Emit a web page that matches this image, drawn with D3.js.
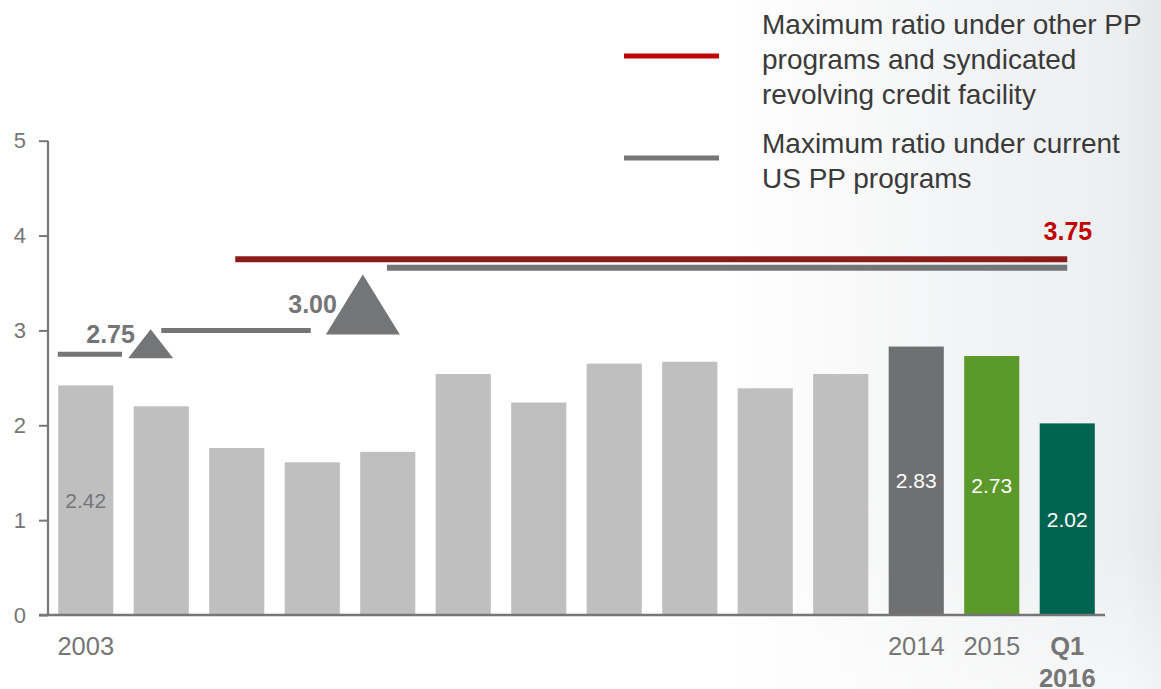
<!DOCTYPE html>
<html>
<head>
<meta charset="utf-8">
<script src="https://cdn.jsdelivr.net/npm/d3@7/dist/d3.min.js"></script>
<style>
  html, body { margin: 0; padding: 0; background: #ffffff; }
  svg { display: block; font-family: "Liberation Sans", Arial, sans-serif; }
</style>
</head>
<body>
<svg id="chart" width="1161" height="689"></svg>
<script>
// Leverage ratio by year, with the covenant ceilings drawn as step lines.
const categories = ["2003", "2004", "2005", "2006", "2007", "2008", "2009",
                    "2010", "2011", "2012", "2013", "2014", "2015", "Q1 2016"];
const values = [2.42, 2.20, 1.76, 1.61, 1.72, 2.54, 2.24,
                2.65, 2.67, 2.39, 2.54, 2.83, 2.73, 2.02];
// Axis labels shown under the bars (others left blank)
const tickLabels = {"2003": ["2003"], "2014": ["2014"], "2015": ["2015"], "Q1 2016": ["Q1", "2016"]};
const boldTicks = ["Q1 2016"];
// Value labels printed inside bars
const labelledBars = ["2003", "2014", "2015", "Q1 2016"];
const yTicks = [0, 1, 2, 3, 4, 5];

// Covenant ceilings; start/end are positions in category units along the axis
const usLimits = [
  {start: 0.13, end: 0.98, value: 2.75},
  {start: 1.50, end: 3.48, value: 3.00},
  {start: 4.49, end: 13.50, value: 3.75}
];
const otherLimits = [
  {start: 2.48, end: 13.50, value: 3.75}
];
// Step-up markers (triangles) with their labels
const stepMarkers = [
  {pos: 1.36, from: 2.75, label: "2.75", size: "small"},
  {pos: 4.17, from: 3.00, label: "3.00", size: "large"}
];
const ceilingLabel = {value: 3.75, at: 13.50, text: "3.75"};

const legendItems = [
  {key: "other", lines: ["Maximum ratio under other PP", "programs and syndicated", "revolving credit facility"]},
  {key: "us", lines: ["Maximum ratio under current", "US PP programs"]}
];

const colors = {
  bar: "#bfbfbf",
  highlight: {"2014": "#6f7072", "2015": "#5b9a2a", "Q1 2016": "#006450"},
  axis: "#767676",
  axisText: "#767676",
  usLine: "#747576",
  otherLine: "#8c1c1c",
  redText: "#c00000",
  legendRed: "#c00000",
  legendGray: "#767676",
  legendText: "#3a3a3a"
};

const svg = d3.select("#chart");
const W = 1161, H = 689;

// soft backdrop fading in on the right
const defs = svg.append("defs");
const bg = defs.append("linearGradient").attr("id", "bgGrad").attr("x1", 0).attr("x2", 1).attr("y1", 0).attr("y2", 0);
bg.append("stop").attr("offset", "0%").attr("stop-color", "#ffffff");
bg.append("stop").attr("offset", "62%").attr("stop-color", "#ffffff");
bg.append("stop").attr("offset", "85%").attr("stop-color", "#f2f3f4");
bg.append("stop").attr("offset", "97%").attr("stop-color", "#eceef0");
bg.append("stop").attr("offset", "100%").attr("stop-color", "#e4e6e8");
const bgV = defs.append("linearGradient").attr("id", "bgFade").attr("x1", 0).attr("x2", 0).attr("y1", 0).attr("y2", 1);
bgV.append("stop").attr("offset", "0%").attr("stop-color", "#ffffff").attr("stop-opacity", 0);
bgV.append("stop").attr("offset", "80%").attr("stop-color", "#ffffff").attr("stop-opacity", 0);
bgV.append("stop").attr("offset", "100%").attr("stop-color", "#ffffff").attr("stop-opacity", 0.5);
svg.append("rect").attr("width", W).attr("height", H).attr("fill", "url(#bgGrad)");
svg.append("rect").attr("width", W).attr("height", H).attr("fill", "url(#bgFade)");

// scales
const x = d3.scaleBand().domain(categories).range([48, 1105]).paddingInner(0.27).paddingOuter(0.135);
const pos = d3.scaleLinear().domain([0, categories.length]).range([48, 1105]);
const y = d3.scaleLinear().domain([0, 5]).range([615, 140.7]);

// bars
svg.append("g").selectAll("rect").data(categories).join("rect")
  .attr("x", d => x(d))
  .attr("width", x.bandwidth())
  .attr("y", (d, i) => y(values[i]))
  .attr("height", (d, i) => y(0) - y(values[i]))
  .attr("fill", d => colors.highlight[d] || colors.bar);

// value labels, centred in the bar
svg.append("g").selectAll("text").data(labelledBars).join("text")
  .attr("x", d => x(d) + x.bandwidth() / 2)
  .attr("y", d => (y(values[categories.indexOf(d)]) + y(0)) / 2)
  .attr("dy", "0.35em")
  .attr("text-anchor", "middle")
  .attr("font-size", 21)
  .attr("fill", d => colors.highlight[d] ? "#ffffff" : colors.axisText)
  .text(d => values[categories.indexOf(d)].toFixed(2));

// y axis
const yAxis = d3.axisLeft(y).tickValues(yTicks).tickSize(9).tickPadding(13).tickFormat(d3.format("d"));
const gy = svg.append("g").attr("transform", "translate(48,0)").call(yAxis);
gy.select(".domain").attr("stroke", colors.axis).attr("stroke-width", 2.2).attr("d", `M0,${y(5)}V${y(0)}`);
gy.selectAll(".tick line").attr("stroke", colors.axis).attr("stroke-width", 2);
gy.selectAll(".tick text").attr("fill", colors.axisText).attr("font-size", 22)
  .attr("font-family", "Liberation Sans, Arial, sans-serif");

// x axis baseline
const xAxis = d3.axisBottom(x).tickSize(0).tickFormat("");
const gx = svg.append("g").attr("transform", `translate(0,${y(0)})`).call(xAxis);
gx.select(".domain").attr("stroke", colors.axis).attr("stroke-width", 2.5).attr("d", `M39,0H1105`);

// category labels
const tl = svg.append("g").selectAll("text").data(Object.keys(tickLabels)).join("text")
  .attr("x", d => x(d) + x.bandwidth() / 2)
  .attr("y", 655)
  .attr("text-anchor", "middle")
  .attr("font-size", 25.5)
  .attr("font-weight", d => boldTicks.includes(d) ? "bold" : "normal")
  .attr("fill", colors.axisText);
tl.selectAll("tspan").data(d => tickLabels[d]).join("tspan")
  .attr("x", function() { return d3.select(this.parentNode).attr("x"); })
  .attr("dy", (d, i) => i === 0 ? 0 : 32)
  .text(d => d);

// covenant ceilings
svg.append("g").selectAll("line").data(otherLimits).join("line")
  .attr("x1", d => pos(d.start)).attr("x2", d => pos(d.end))
  .attr("y1", d => y(d.value)).attr("y2", d => y(d.value))
  .attr("stroke", colors.otherLine).attr("stroke-width", 6);

// where both ceilings coincide the US line sits just beneath the red one
const sharesLevel = d => otherLimits.some(o => o.value === d.value);
svg.append("g").selectAll("line").data(usLimits).join("line")
  .attr("x1", d => pos(d.start)).attr("x2", d => pos(d.end))
  .attr("y1", d => y(d.value) + (sharesLevel(d) ? 8.5 : 0))
  .attr("y2", d => y(d.value) + (sharesLevel(d) ? 8.5 : 0))
  .attr("stroke", colors.usLine).attr("stroke-width", d => sharesLevel(d) ? 6 : 5);

// step-up triangles
const triSize = {small: {half: 22.5, h: 29}, large: {half: 37, h: 60}};
const markers = svg.append("g").selectAll("g").data(stepMarkers).join("g");
markers.append("path")
  .attr("d", d => {
    const cx = pos(d.pos), base = y(d.from) + 4, s = triSize[d.size];
    return `M${cx - s.half},${base}L${cx},${base - s.h}L${cx + s.half},${base}Z`;
  })
  .attr("fill", colors.usLine);
markers.append("text")
  .attr("x", d => pos(d.pos) - triSize[d.size].half * 0.7)
  .attr("y", d => y(d.from) + 4 - (8 + 0.23 * triSize[d.size].h))
  .attr("text-anchor", "end")
  .attr("font-size", 25)
  .attr("font-weight", "bold")
  .attr("fill", colors.usLine)
  .text(d => d.label);

// ceiling value
svg.append("text")
  .attr("x", pos(ceilingLabel.at) + 25)
  .attr("y", y(ceilingLabel.value) - 19)
  .attr("text-anchor", "end")
  .attr("font-size", 25)
  .attr("font-weight", "bold")
  .attr("fill", colors.redText)
  .text(ceilingLabel.text);

// legend
const legendTop = [34, 153];
const legendLineY = [56, 158];
const lg = svg.append("g").selectAll("g").data(legendItems).join("g");
lg.append("line")
  .attr("x1", 624).attr("x2", 719)
  .attr("y1", (d, i) => legendLineY[i]).attr("y2", (d, i) => legendLineY[i])
  .attr("stroke", d => d.key === "other" ? colors.legendRed : colors.legendGray)
  .attr("stroke-width", 5);
lg.append("text")
  .attr("x", 762)
  .attr("y", (d, i) => legendTop[i])
  .attr("font-size", 28)
  .attr("fill", colors.legendText)
  .selectAll("tspan").data(d => d.lines).join("tspan")
  .attr("x", 762)
  .attr("dy", (d, i) => i === 0 ? 0 : 35)
  .text(d => d);
</script>
</body>
</html>
